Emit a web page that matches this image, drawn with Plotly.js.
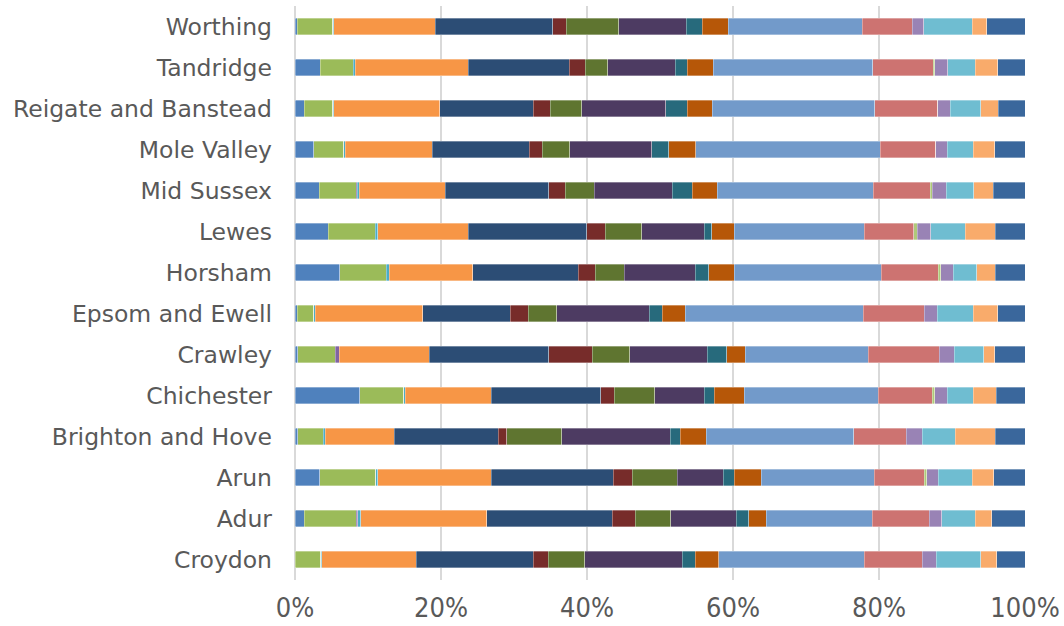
<!DOCTYPE html>
<html>
<head>
<meta charset="utf-8">
<script src="https://cdn.plot.ly/plotly-3.0.1.min.js"></script>
<style>html,body{margin:0;padding:0;background:#fff;}#chart{width:1064px;height:626px;}</style>
</head>
<body>
<div id="chart"></div>
<script>
// Categories, bottom to top
const categories = ["Croydon","Adur","Arun","Brighton and Hove","Chichester","Crawley","Epsom and Ewell","Horsham","Lewes","Mid Sussex","Mole Valley","Reigate and Banstead","Tandridge","Worthing"];

// Series values (% share), one value per category in the order above
const s01 = [0.00,1.28,3.42,0.41,8.90,0.41,0.32,6.16,4.57,3.33,2.60,1.28,3.47,0.32];
const s02 = [3.52,7.08,7.63,3.47,6.03,5.12,2.28,6.31,6.43,5.03,4.11,3.88,4.48,4.84];
const s03 = [0.00,0.22,0.00,0.00,0.00,0.50,0.00,0.00,0.00,0.18,0.00,0.00,0.00,0.00];
const s04 = [0.13,0.46,0.27,0.28,0.18,0.00,0.14,0.41,0.32,0.27,0.14,0.14,0.31,0.14];
const s05 = [12.93,17.22,15.57,9.45,11.78,12.37,14.75,11.50,12.42,11.78,11.92,14.52,15.44,13.88];
const s06 = [16.07,17.21,16.72,14.24,14.98,16.35,12.01,14.39,16.21,14.16,13.33,12.83,13.88,16.16];
const s07 = [2.05,3.15,2.60,1.15,1.87,5.98,2.46,2.37,2.56,2.28,1.78,2.33,2.15,1.83];
const s08 = [4.98,4.84,6.16,7.53,5.53,5.11,3.88,3.93,5.02,3.93,3.75,4.29,3.10,7.17];
const s09 = [13.38,9.00,6.31,14.89,6.76,10.64,12.70,9.77,8.54,10.73,11.21,11.55,9.27,9.27];
const s10 = [1.78,1.69,1.46,1.32,1.41,2.65,1.78,1.83,1.01,2.74,2.39,2.92,1.64,2.19];
const s11 = [3.20,2.42,3.70,3.61,4.07,2.56,3.15,3.51,3.10,3.42,3.70,3.43,3.57,3.56];
const s12 = [19.95,14.52,15.48,20.18,18.40,16.85,24.38,20.14,17.77,21.37,25.25,22.28,21.82,18.36];
const s13 = [7.90,7.80,6.89,7.21,7.35,9.68,8.36,7.81,6.84,7.81,7.58,8.63,8.27,6.85];
const s14 = [0.00,0.00,0.32,0.00,0.41,0.00,0.00,0.36,0.46,0.23,0.00,0.00,0.27,0.00];
const s15 = [1.96,1.69,1.60,2.20,1.69,2.10,1.74,1.69,1.87,1.96,1.60,1.69,1.78,1.59];
const s16 = [6.12,4.62,4.66,4.52,3.52,4.06,4.93,3.20,4.71,3.79,3.52,4.20,3.75,6.63];
const s17 = [2.19,2.23,2.92,5.43,3.15,1.46,3.42,2.56,4.06,2.61,2.96,2.38,3.06,2.00];
const s18 = [3.84,4.57,4.29,4.11,3.97,4.16,3.70,4.06,4.11,4.38,4.16,3.65,3.74,5.21];

const seriesValues = [s01,s02,s03,s04,s05,s06,s07,s08,s09,s10,s11,s12,s13,s14,s15,s16,s17,s18];
const seriesColors = ["#4F81BD","#9BBB59","#8064A2","#4BACC6","#F79646","#2C4D75","#772C2A","#5F7530","#4D3B62","#276A7C","#B65708","#729ACA","#CD7371","#AFC97A","#9983B5","#6FBDD1","#F9AB6B","#3A679C"];

const traces = seriesValues.map((vals, i) => ({
  type: "bar",
  orientation: "h",
  y: categories,
  x: vals,
  name: "Series " + (i + 1),
  marker: { color: seriesColors[i], line: { color: "rgba(255,255,255,0.55)", width: 0.6 } },
  hoverinfo: "x+y"
}));

const layout = {
  width: 1064,
  height: 626,
  margin: { l: 295, r: 39, t: 6, b: 46 },
  barmode: "stack",
  barnorm: "percent",
  bargap: 0.6,
  showlegend: false,
  paper_bgcolor: "#ffffff",
  plot_bgcolor: "#ffffff",
  xaxis: {
    range: [0, 100],
    tickvals: [0, 20, 40, 60, 80, 100],
    ticktext: ["0%", "20%", "40%", "60%", "80%", "100%"],
    showgrid: true,
    gridcolor: "#D9D9D9",
    gridwidth: 2,
    zeroline: true,
    zerolinecolor: "#D9D9D9",
    zerolinewidth: 2,
    showline: false,
    ticks: "",
    ticklabelstandoff: 9,
    tickfont: { family: "DejaVu Sans Condensed, DejaVu Sans, sans-serif", size: 27, color: "#595959" },
    fixedrange: true
  },
  yaxis: {
    type: "category",
    categoryorder: "array",
    categoryarray: categories,
    showgrid: false,
    zeroline: false,
    showline: false,
    ticks: "",
    ticklabelstandoff: 22,
    tickfont: { family: "DejaVu Sans, Verdana, sans-serif", size: 23.5, color: "#595959" },
    fixedrange: true
  }
};

Plotly.newPlot("chart", traces, layout, { displayModeBar: false, staticPlot: true });
</script>
</body>
</html>
